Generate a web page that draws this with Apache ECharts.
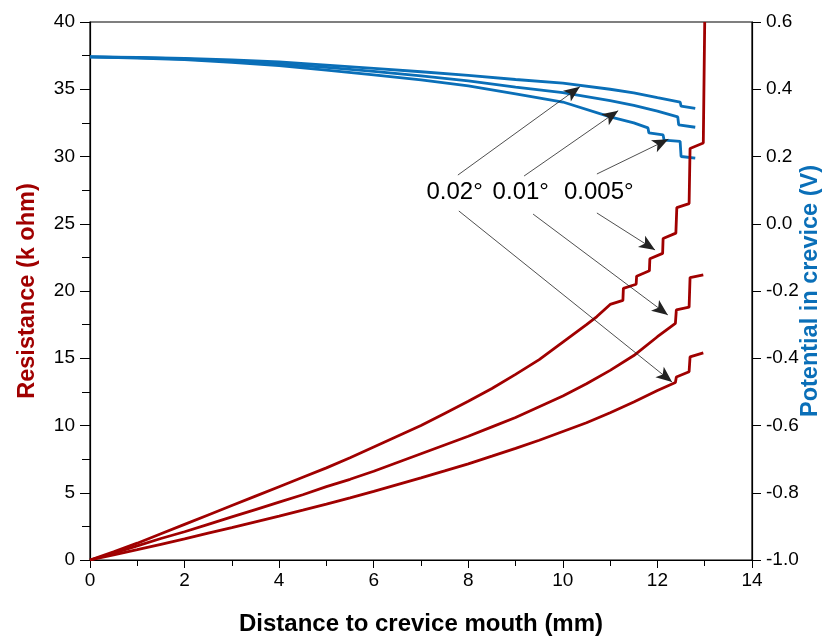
<!DOCTYPE html>
<html><head><meta charset="utf-8">
<script src="https://cdn.jsdelivr.net/npm/echarts@6/dist/echarts.min.js"></script>
<style>html,body{margin:0;padding:0;background:#fff}#c{width:827px;height:637px}</style>
</head><body><div id="c"></div>
<script>
// Resistance curves (left axis, k ohm)
const xRes005 = [0,0.5,1,1.5,2,2.5,3,3.5,4,4.5,5,5.5,6,6.5,7,7.5,8,8.5,9,9.5,10,10.5,10.72,11.0,11.27,11.28,11.55,11.56,11.83,11.84,12.11,12.12,12.39,12.41,12.67,12.69,12.97,13.0];
const res005  = [0,0.6,1.25,1.95,2.65,3.35,4.05,4.75,5.45,6.15,6.85,7.6,8.4,9.2,10.0,10.9,11.8,12.75,13.8,14.9,16.2,17.5,18.1,19.0,19.3,20.2,20.5,21.1,21.5,22.4,22.8,23.9,24.3,26.2,26.5,30.6,31.0,40];
const xRes01  = [0,0.5,1,1.5,2,2.5,3,3.5,4,4.5,5,5.5,6,6.5,7,7.5,8,8.5,9,9.5,10,10.5,11,11.5,12,12.38,12.40,12.67,12.69,12.97];
const res01   = [0,0.5,1.05,1.6,2.1,2.65,3.2,3.75,4.3,4.85,5.45,6.0,6.6,7.25,7.9,8.55,9.2,9.9,10.6,11.4,12.2,13.1,14.1,15.2,16.6,17.6,18.6,18.8,21.0,21.2];
const xRes02  = [0,0.5,1,1.5,2,2.5,3,3.5,4,4.5,5,5.5,6,6.5,7,7.5,8,8.5,9,9.5,10,10.5,11,11.5,12,12.38,12.40,12.67,12.69,12.97];
const res02   = [0,0.38,0.77,1.17,1.57,1.99,2.41,2.84,3.27,3.71,4.16,4.62,5.1,5.6,6.1,6.62,7.15,7.72,8.3,8.9,9.55,10.2,10.95,11.75,12.6,13.2,13.6,14.0,15.1,15.4];
// Potential curves (right axis, V)
const xPot02  = [0,1,2,3,4,5,6,7,8,9,10,11,11.5,12,12.48,12.5,12.8];
const pot02   = [0.496,0.495,0.492,0.487,0.481,0.472,0.462,0.452,0.441,0.429,0.418,0.400,0.389,0.375,0.362,0.350,0.343];
const xPot01  = [0,1,2,3,4,5,6,7,8,9,10,11,11.5,12,12.43,12.45,12.8];
const pot01   = [0.496,0.494,0.490,0.483,0.475,0.465,0.453,0.440,0.425,0.406,0.390,0.366,0.352,0.335,0.318,0.294,0.287];
const xPot005 = [0,1,2,3,4,5,6,7,8,9,10,11,11.5,11.8,11.82,12.12,12.14,12.48,12.5,12.8];
const pot005  = [0.496,0.493,0.488,0.480,0.470,0.457,0.443,0.428,0.410,0.386,0.362,0.318,0.300,0.285,0.270,0.264,0.249,0.245,0.200,0.195];
// Annotations (data coords on left axis)
const labelNames = ['0.02°','0.01°','0.005°'];
const labelPos = [[7.71,27.3],[9.11,27.3],[10.76,27.3]];
const arrowFrom = [[7.78,28.62],[9.18,28.55],[10.72,28.70],[7.80,25.95],[9.37,25.72],[10.72,25.80]];
const arrowTo   = [[10.36,35.19],[11.17,33.41],[12.23,31.28],[12.31,13.23],[12.22,18.22],[11.95,23.05]];
// Tick labels
const xTicks = [0,2,4,6,8,10,12,14];
const leftTicks = [0,5,10,15,20,25,30,35,40];
const rightTicks = [-1.0,-0.8,-0.6,-0.4,-0.2,0.0,0.2,0.4,0.6];

const RED = '#a00000', BLUE = '#0a6fb8';
const zip = (xs, ys) => xs.map((x,i)=>[x, ys[i]]);
const font = 'Liberation Sans, Arial, sans-serif';

const chart = echarts.init(document.getElementById('c'), null, {renderer:'canvas'});
const baseLine = (name, xs, ys, color, yIdx) => ({
  name, type:'line', xAxisIndex:0, yAxisIndex:yIdx, data: zip(xs, ys),
  showSymbol:false, symbol:'none', lineStyle:{color, width:2.8}, itemStyle:{color},
  animation:false, silent:true, clip:true
});
const s0 = baseLine('R 0.005', xRes005, res005, RED, 0);
s0.markLine = {
  silent:true, animation:false, symbol:['none','arrow'], symbolSize:[10,16],
  lineStyle:{color:'#222', width:0.8, type:'solid'}, label:{show:false},
  data: arrowFrom.map((f,i)=>[{coord:f},{coord:arrowTo[i]}])
};
s0.markPoint = {
  silent:true, animation:false, symbol:'circle', symbolSize:0,
  label:{show:true, position:'inside', formatter: p=>p.name, color:'#000', fontSize:24, fontFamily:font},
  data: labelNames.map((n,i)=>({name:n, coord:labelPos[i]}))
};
chart.setOption({
  backgroundColor:'#fff',
  grid:{left:90, right:75, top:22, bottom:77, containLabel:false, outerBoundsMode:'none',
        show:true, borderColor:'#000', borderWidth:1.2},
  xAxis:[{
    type:'value', min:0, max:14, interval:2,
    name:'Distance to crevice mouth (mm)', nameLocation:'middle', nameGap:52,
    nameTextStyle:{fontSize:24, fontWeight:'bold', color:'#000', fontFamily:font},
    axisLine:{show:true, onZero:false, lineStyle:{color:'#000', width:1.2}},
    axisTick:{show:true, length:8, lineStyle:{color:'#000'}},
    minorTick:{show:true, splitNumber:2, length:6, lineStyle:{color:'#000'}},
    axisLabel:{fontSize:19, color:'#000', margin:11, fontFamily:font, formatter: v=> xTicks.includes(v)? String(v):''},
    splitLine:{show:false}
  }],
  yAxis:[{
    type:'value', min:0, max:40, interval:5, position:'left',
    name:'Resistance (k ohm)', nameLocation:'middle', nameGap:50,
    nameTextStyle:{fontSize:23.5, fontWeight:'bold', color:RED, fontFamily:font},
    axisLine:{show:true, lineStyle:{color:'#000', width:1.2}},
    axisTick:{show:true, length:10, lineStyle:{color:'#000'}},
    minorTick:{show:true, splitNumber:2, length:8, lineStyle:{color:'#000'}},
    axisLabel:{fontSize:19, color:'#000', margin:15, fontFamily:font, formatter: v=> leftTicks.includes(v)? String(v):''},
    splitLine:{show:false}
  },{
    type:'value', min:-1.0, max:0.6, interval:0.2, position:'right',
    name:'Potential in crevice (V)', nameLocation:'middle', nameGap:47, nameMoveOverlap:false,
    nameRotate:90,
    nameTextStyle:{fontSize:23.5, fontWeight:'bold', color:BLUE, fontFamily:font},
    axisLine:{show:true, lineStyle:{color:'#000', width:1.2}},
    axisTick:{show:true, length:9, lineStyle:{color:'#000'}},
    axisLabel:{fontSize:19, color:'#000', margin:14, fontFamily:font,
      formatter: v=> { const t = rightTicks.find(r=>Math.abs(r-v)<1e-6); return t===undefined? '' : t.toFixed(1); }},
    splitLine:{show:false}
  }],
  series:[
    baseLine('V 0.02', xPot02, pot02, BLUE, 1),
    baseLine('V 0.01', xPot01, pot01, BLUE, 1),
    baseLine('V 0.005', xPot005, pot005, BLUE, 1),
    s0,
    baseLine('R 0.01', xRes01, res01, RED, 0),
    baseLine('R 0.02', xRes02, res02, RED, 0)
  ]
});
</script></body></html>
